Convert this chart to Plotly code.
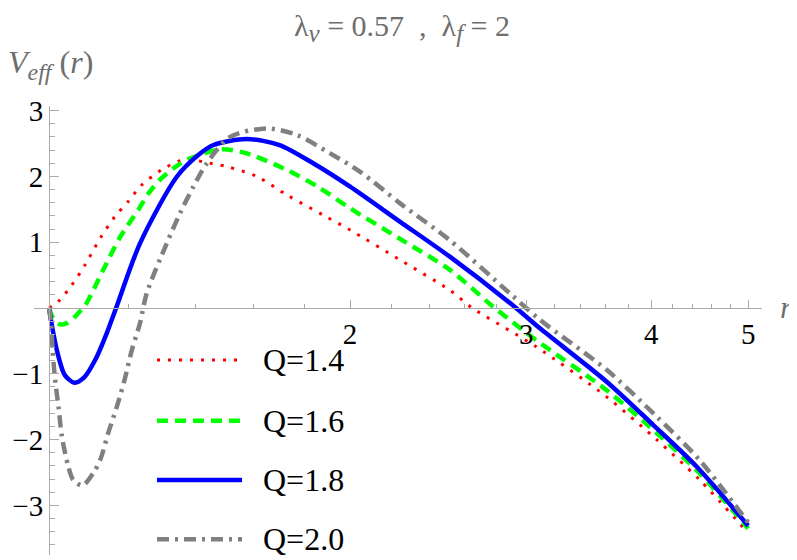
import math
import plotly.graph_objects as go

# ---------------- data ----------------
r_q14 = [1.0, 1.022, 1.054, 1.086, 1.125, 1.164, 1.2, 1.238, 1.296, 1.352, 1.39, 1.427, 1.505,
         1.613, 1.728, 1.881, 2.0, 2.244, 2.516, 2.65, 3.07, 3.61, 4.05, 4.47, 5.0]
v_q14 = [0.0, 0.10, 0.35, 0.65, 1.06, 1.39, 1.62, 1.87, 2.10, 2.24, 2.26, 2.22, 2.15,
         2.0, 1.72, 1.41, 1.185, 0.73, 0.27, 0.0, -0.59, -1.35, -2.0, -2.61, -3.42]

r_q16 = [1.0, 1.01, 1.026, 1.042, 1.062, 1.082, 1.09, 1.133, 1.178, 1.228, 1.257, 1.291, 1.331,
         1.373, 1.483, 1.576, 1.728, 1.858, 2.0, 2.244, 2.516, 2.78, 3.07, 3.61, 4.05, 4.47, 5.0]
v_q16 = [0.0, -0.16, -0.25, -0.23, -0.13, 0.01, 0.07, 0.58, 1.08, 1.49, 1.74, 1.95, 2.12,
         2.25, 2.41, 2.35, 2.10, 1.84, 1.515, 1.05, 0.58, 0.02, -0.49, -1.25, -1.90, -2.51, -3.35]

r_q18 = [1.0, 1.01, 1.022, 1.037, 1.06, 1.085, 1.113, 1.142, 1.167, 1.233, 1.342, 1.41, 1.46,
         1.576, 1.70, 1.837, 2.0, 2.244, 2.516, 2.92, 3.096, 3.61, 4.02, 4.44, 5.0]
v_q18 = [0.0, -0.385, -0.74, -1.02, -1.135, -1.05, -0.78, -0.385, 0.0, 0.983, 1.995, 2.325, 2.477,
         2.568, 2.477, 2.2, 1.844, 1.31, 0.78, 0.02, -0.309, -1.12, -1.78, -2.41, -3.31]

r_q20 = [1.0, 1.004, 1.008, 1.012, 1.017, 1.022, 1.030, 1.045, 1.057, 1.08, 1.107, 1.125, 1.146,
         1.169, 1.191, 1.21, 1.233, 1.252, 1.311, 1.352, 1.394, 1.438, 1.517, 1.651, 1.769,
         1.91, 2.047, 2.244, 2.516, 2.89, 3.096, 3.61, 4.05, 4.47, 5.0]
v_q20 = [0.0, -0.2, -0.6, -0.95, -1.25, -1.5, -1.95, -2.4, -2.61, -2.70, -2.51, -2.31, -1.90,
         -1.5, -1.07, -0.64, -0.23, 0.22, 0.98, 1.44, 1.84, 2.2, 2.60, 2.73, 2.63,
         2.35, 2.07, 1.59, 1.03, 0.22, -0.18, -0.94, -1.65, -2.31, -3.26]

series_names = ["Q=1.4", "Q=1.6", "Q=1.8", "Q=2.0"]
series_r = [r_q14, r_q16, r_q18, r_q20]
series_v = [v_q14, v_q16, v_q18, v_q20]

x_major_ticks = [2, 3, 4, 5]
x_minor_ticks = [1.2, 1.4, 1.6, 1.8, 2.2, 2.4, 2.6, 2.8, 3.2, 3.4, 3.6, 3.8, 4.2, 4.4, 4.6, 4.8]
y_major_ticks = [-3, -2, -1, 1, 2, 3]

# ---------------- styles ----------------
colors = ["#ff0000", "#00ff00", "#0000ff", "#808080"]
dashes = ["3px,8px", "11px,7px", "solid", "12px,6px,3px,6px"]
widths = [3, 4.5, 4.5, 4.5]

AX = "#aaaaaa"
LBL = "#6e6e6e"
FONT = "'Liberation Serif', 'Times New Roman', 'DejaVu Serif', serif"

# page has an 8px body margin: figure pixel = page pixel - OFF
OFF = 8
PAGE_W, PAGE_H = 797, 560
W, H = PAGE_W - OFF, PAGE_H - OFF
# plot area in page pixels (from the reference)
PX0, PX1, PY0, PY1 = 34, 762, 106, 555
ML, MR, MT, MB = PX0 - OFF, W - (PX1 - OFF), PY0 - OFF, H - (PY1 - OFF)
pw, ph = PX1 - PX0, PY1 - PY0


def px_to_paper_x(px):
    return (px - PX0) / pw


def py_to_paper_y(py):
    return (PY1 - py) / ph


x_range = [math.log10(0.966), math.log10(5.162)]
y_range = [-3.754, 3.07]

# axis crossing positions in paper coords
x_axis_pos = (0 - y_range[0]) / (y_range[1] - y_range[0])
y_axis_pos = (0 - x_range[0]) / (x_range[1] - x_range[0])

fig = go.Figure()
for name, rr, vv, c, d, w in zip(series_names, series_r, series_v, colors, dashes, widths):
    fig.add_trace(go.Scatter(x=rr, y=vv, mode="lines", name=name,
                             line=dict(color=c, dash=d, width=w, shape="spline", smoothing=0.8),
                             showlegend=False))

fig.update_layout(
    width=W, height=H,
    margin=dict(l=ML, r=MR, t=MT, b=MB, autoexpand=False),
    paper_bgcolor="white", plot_bgcolor="white",
    font=dict(family=FONT, color="black"),
    xaxis=dict(type="log", range=x_range, anchor="free", position=x_axis_pos, automargin=False,
               showgrid=False, zeroline=False, showline=True, linecolor=AX, linewidth=1,
               tickmode="array", tickvals=x_major_ticks, ticktext=[str(t) for t in x_major_ticks],
               ticks="inside", ticklen=8, tickcolor=AX, tickwidth=1,
               tickfont=dict(family=FONT, size=29, color="black"),
               minor=dict(tickmode="array", tickvals=x_minor_ticks, ticks="inside",
                          ticklen=4, tickcolor=AX, tickwidth=1, showgrid=False)),
    yaxis=dict(range=y_range, anchor="free", position=y_axis_pos, automargin=False,
               showgrid=False, zeroline=False, showline=True, linecolor=AX, linewidth=1,
               tickmode="array", tickvals=y_major_ticks,
               ticks="inside", ticklen=9, tickcolor=AX, tickwidth=1,
               tickfont=dict(family=FONT, size=29, color="black"),
               minor=dict(dtick=0.2, tick0=0, ticks="inside", ticklen=5,
                          tickcolor=AX, tickwidth=1, showgrid=False)),
)

# title (as an annotation, its top pinned to the top of the figure)
sub = '<sub><span style="font-size:25px"><i>{}</i></span></sub>'
title_text = "λ" + sub.format("v") + " = 0.57  ,  λ" + sub.format("f") + " = 2"
fig.add_annotation(text=title_text, xref="paper", yref="paper",
                   x=px_to_paper_x(402), y=py_to_paper_y(OFF),
                   xanchor="center", yanchor="top", showarrow=False, borderpad=0,
                   font=dict(family=FONT, size=30, color=LBL))

# axis labels
fig.add_annotation(text='<i>V</i><sub><span style="font-size:24px"><i>eff</i></span></sub> (<i>r</i>)',
                   xref="paper", yref="paper",
                   x=px_to_paper_x(6), y=py_to_paper_y(64),
                   xanchor="left", yanchor="middle", showarrow=False,
                   font=dict(family=FONT, size=32, color=LBL))
fig.add_annotation(text="<i>r</i>", xref="paper", yref="paper",
                   x=px_to_paper_x(786), y=x_axis_pos,
                   xanchor="center", yanchor="middle", showarrow=False,
                   font=dict(family=FONT, size=31, color=LBL))

# legend drawn inside the plot
row_y = [360, 420.7, 480, 539.3]
for name, c, d, w, py in zip(series_names, colors, dashes, widths, row_y):
    yp = py_to_paper_y(py)
    fig.add_shape(type="line", xref="paper", yref="paper",
                  x0=px_to_paper_x(157), x1=px_to_paper_x(242), y0=yp, y1=yp,
                  line=dict(color=c, width=w, dash=d))
    fig.add_annotation(text=name, xref="paper", yref="paper",
                       x=px_to_paper_x(261), y=yp, xanchor="left", yanchor="middle",
                       showarrow=False, font=dict(family=FONT, size=32, color="black"))

fig.write_html("out.html")
